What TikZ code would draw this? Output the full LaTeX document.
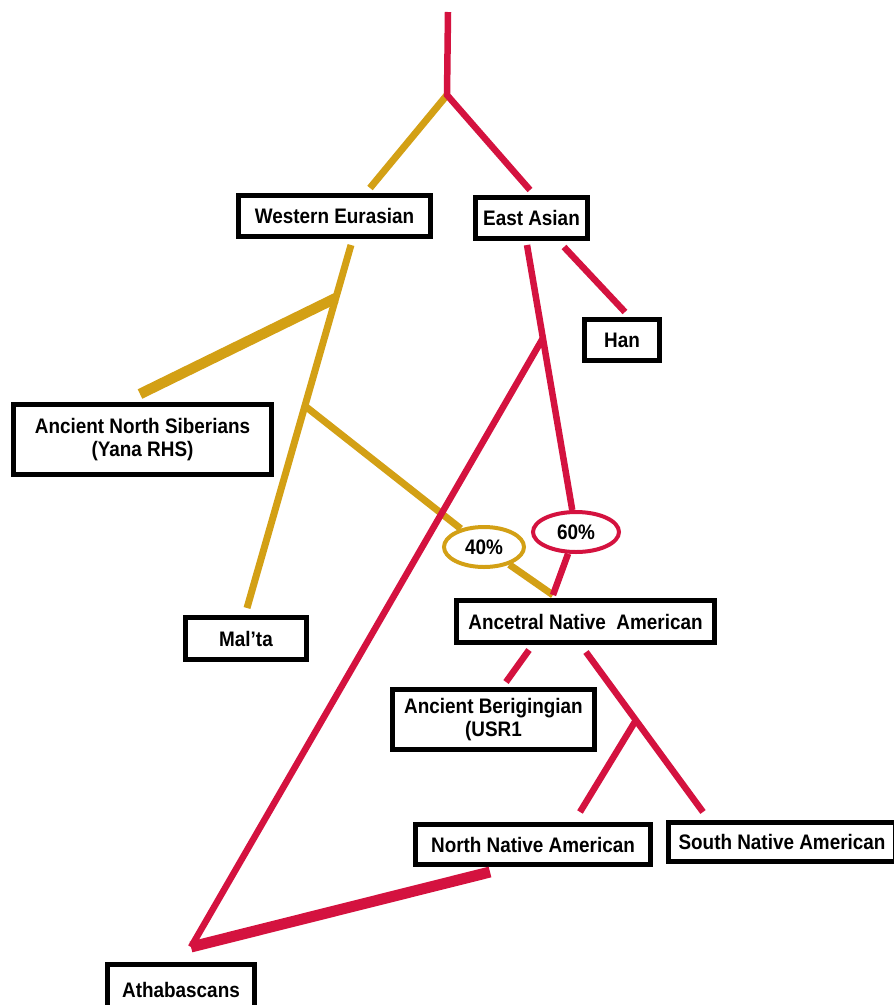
\documentclass[tikz,border=0pt]{standalone}
\usepackage{fontspec}
\setmainfont{Liberation Sans}[FakeStretch=0.9]
\usepackage{tikz}
\usetikzlibrary{shapes.geometric}
\definecolor{treered}{HTML}{D4123F}
\definecolor{treegold}{HTML}{D3A015}
\begin{document}
\begin{tikzpicture}[x=1pt, y=-1pt,
  popbox/.style={draw=black, line width=5pt, fill=white, inner sep=0pt, align=center,
    font=\bfseries\fontsize{21}{23}\selectfont},
  pct/.style={ellipse, line width=4pt, fill=white, inner sep=0pt, minimum height=40pt,
    font=\bfseries\fontsize{21}{23}\selectfont},
  redline/.style={treered, line width=6.5pt},
  goldline/.style={treegold, line width=7pt}]
  \clip (0,0) rectangle (894,1005);
  \node[popbox, minimum width=192pt, minimum height=41pt] (we) at (334.5,216) {Western Eurasian};
  \node[popbox, minimum width=112pt, minimum height=41pt] (ea) at (531.5,218) {East Asian};
  \node[popbox, minimum width=75pt, minimum height=41pt] (han) at (622,340) {Han};
  \node[popbox, minimum width=258pt, minimum height=70pt] (ans) at (142.5,439.5) {Ancient North Siberians\\(Yana RHS)};
  \node[popbox, minimum width=121pt, minimum height=42pt] (malta) at (246,638.5) {Mal’ta};
  \node[popbox, minimum width=258pt, minimum height=42pt] (ana) at (585.5,621.5) {Ancetral Native\ \ American};
  \node[popbox, minimum width=202pt, minimum height=60pt] (ab) at (493.5,719.5) {Ancient Berigingian\\(USR1};
  \node[popbox, minimum width=235pt, minimum height=40pt] (nna) at (533,844.5) {North Native American};
  \node[popbox, minimum width=227pt, minimum height=39pt] (sna) at (782,842) {South Native American};
  \node[popbox, minimum width=147pt, minimum height=51pt] (ath) at (181,990) {Athabascans};
  \node[pct, draw=treegold, minimum width=80pt] (p40) at (484,547) {40\%};
  \node[pct, draw=treered, minimum width=86pt] (p60) at (576,532) {60\%};

  \coordinate (top) at (448,12);
  \coordinate (root) at (447,95);
  \coordinate (we-in) at (370,188);
  \coordinate (ea-in) at (530,190);
  \coordinate (we-out) at (351,245);
  \coordinate (j-ans) at (336,298);
  \coordinate (j-mix) at (305,406);
  \coordinate (ans-in) at (140,394);
  \coordinate (malta-in) at (247,608);
  \coordinate (ea-out) at (527,245);
  \coordinate (j-ath) at (543,338);
  \coordinate (ea-han) at (564,247);
  \coordinate (han-in) at (625,312);
  \coordinate (ana-in) at (553,595);
  \coordinate (ana-ab) at (529,650);
  \coordinate (ab-in) at (506,682);
  \coordinate (ana-sna) at (586,652);
  \coordinate (sna-in) at (703,812);
  \coordinate (j-nna) at (636,720);
  \coordinate (nna-in) at (580,812);
  \coordinate (nna-out) at (490,872);
  \coordinate (ath-in) at (191,947);

  \draw[goldline] (root) -- (we-in);
  \draw[goldline] (we-out) -- (malta-in);
  \draw[goldline, line width=10.5pt] (j-ans) -- (ans-in);
  \draw[goldline] (j-mix) -- (p40);
  \draw[goldline] (p40) -- (ana-in);

  \draw[redline] (top) -- (root) -- (ea-in);
  \draw[redline] (ea-out) -- (p60);
  \draw[redline] (p60) -- (ana-in);
  \draw[redline] (ea-han) -- (han-in);
  \draw[redline] (j-ath) -- (ath-in);
  \draw[redline] (ana-ab) -- (ab-in);
  \draw[redline] (ana-sna) -- (sna-in);
  \draw[redline] (j-nna) -- (nna-in);
  \draw[redline, line width=11pt, line join=miter] (nna-out) -- (ath-in);
\end{tikzpicture}
\end{document}
